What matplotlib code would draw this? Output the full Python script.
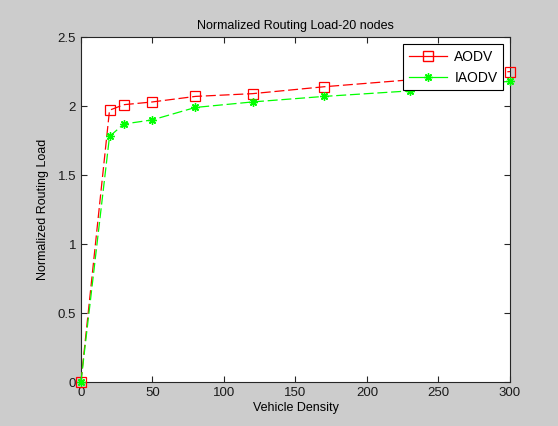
import matplotlib.pyplot as plt
from matplotlib.lines import Line2D

density = [0, 20, 30, 50, 80, 120, 170, 230, 300]
aodv = [0, 1.97, 2.01, 2.03, 2.07, 2.09, 2.14, 2.19, 2.25]
iaodv = [0, 1.78, 1.87, 1.90, 1.99, 2.03, 2.07, 2.11, 2.18]

plt.rcParams["font.family"] = ["Liberation Sans", "DejaVu Sans"]
plt.rcParams["font.size"] = 9

fig = plt.figure(figsize=(5.58, 4.26), dpi=100, facecolor="#cccccc")
ax = fig.add_axes([0.145, 0.103, 0.769, 0.81])

ax.plot(density, aodv, color="red", linestyle="--", dashes=(8, 3), linewidth=0.9,
        marker="s", markersize=7, markerfacecolor="none", markeredgecolor="red",
        markeredgewidth=0.9, clip_on=False, zorder=3)
ax.plot(density, iaodv, color="#00ff00", linestyle="--", dashes=(8, 3), linewidth=0.9,
        marker=(8, 2, 0), markersize=6, markeredgecolor="#00ff00",
        markeredgewidth=1.0, clip_on=False, zorder=3)

ax.set_xlim(0, 300)
ax.set_ylim(0, 2.5)
ax.set_xticks(range(0, 301, 50))
ax.set_yticks([0, 0.5, 1, 1.5, 2, 2.5])
ax.set_yticklabels(["0", "0.5", "1", "1.5", "2", "2.5"])
ax.tick_params(direction="in", top=True, right=True, length=4, width=0.8,
               colors="#262626", labelcolor="#1a1a1a", labelsize=9.5)
for s in ax.spines.values():
    s.set_linewidth(0.8)
    s.set_color("#262626")

ax.set_xlabel("Vehicle Density", labelpad=2)
ax.set_ylabel("Normalized Routing Load", labelpad=6)
ax.set_title("Normalized Routing Load-20 nodes", fontsize=9, pad=6)

handles = [
    Line2D([], [], color="red", linewidth=0.9, marker="s", markersize=7,
           markerfacecolor="none", markeredgecolor="red"),
    Line2D([], [], color="#00ff00", linewidth=0.9, marker=(8, 2, 0), markersize=6,
           markeredgecolor="#00ff00"),
]
leg = ax.legend(handles, ["AODV", "IAODV"], loc="upper right", fancybox=False,
                framealpha=1, edgecolor="black", borderpad=0.4, handlelength=2.8,
                handletextpad=0.5, fontsize=10, borderaxespad=0.5, labelspacing=0.5)
leg.get_frame().set_linewidth(0.8)
leg.set_zorder(5)

fig.savefig("out.png", dpi=100, facecolor=fig.get_facecolor())
